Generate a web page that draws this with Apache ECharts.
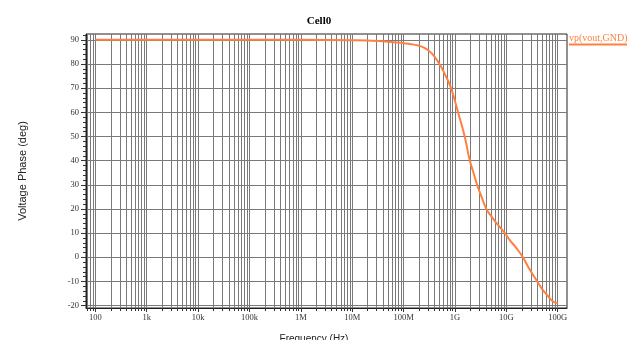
<!DOCTYPE html>
<html>
<head>
  <meta charset="utf-8" />
  <title>Cell0</title>
  <script src="https://cdn.jsdelivr.net/npm/echarts@6.0.0/dist/echarts.min.js"></script>
  <style>
    html, body { margin: 0; padding: 0; background: #fff; }
    #chart-main { width: 638px; height: 340px; }
  </style>
</head>
<body>
<div id="chart-main"></div>

<script type="text/javascript">
// phase of vp(vout,GND) (Hz -> deg)
var freqList = [1e2, 1e3, 1e4, 1e5, 1e6, 1e7,
  3.2e7, 1e8, 1.6e8, 2.5e8, 3.5e8, 5e8, 6.3e8, 8.4e8,
  1.15e9, 1.55e9, 1.95e9, 2.3e9, 2.7e9, 3.3e9, 4.1e9, 5e9, 6.5e9, 9.4e9,
  1.17e10, 1.6e10, 2.1e10, 2.9e10, 4e10, 5e10, 6.2e10, 8.1e10, 1e11];
var phaseList = [90, 90, 90, 90, 90, 89.85,
  89.5, 88.6, 88.0, 86.8, 84.5, 80, 76, 70,
  60, 50, 40, 35, 30, 25, 20, 17.2, 14, 10,
  7.1, 3.6, 0, -5.3, -10, -13.2, -15.6, -18.3, -18.9];

var decadeTicks  = [1e2, 1e3, 1e4, 1e5, 1e6, 1e7, 1e8, 1e9, 1e10, 1e11];
var decadeLabels = ['100', '1k', '10k', '100k', '1M', '10M', '100M', '1G', '10G', '100G'];
var minorSteps   = [2, 3, 4, 5, 6, 7, 8, 9];
var phaseTicks   = [-20, -10, 0, 10, 20, 30, 40, 50, 60, 70, 80, 90];
var phaseMinorTicks = [-20, -18, -16, -14, -12, -10, -8, -6, -4, -2, 0, 2, 4, 6, 8, 10, 12, 14, 16, 18,
  20, 22, 24, 26, 28, 30, 32, 34, 36, 38, 40, 42, 44, 46, 48, 50, 52, 54, 56, 58,
  60, 62, 64, 66, 68, 70, 72, 74, 76, 78, 80, 82, 84, 86, 88, 90, 92];

var freqMin = 65.9, freqMax = 1.52e11;
var phaseMin = -21, phaseMax = 92.4;

var seriesName = 'vp(vout,GND)';
var lineColor = '#ff8040';
var gridColor = '#7a7a7a';
var serif = 'Liberation Serif';
var sans = 'Liberation Sans';

// 2..9 x each decade, kept inside the visible range
var minorFreqs = [];
[10].concat(decadeTicks).forEach(function (d) {
  minorSteps.forEach(function (k) {
    var f = d * k;
    if (f >= freqMin && f <= freqMax) minorFreqs.push(f);
  });
});

var data = freqList.map(function (f, i) { return [f, phaseList[i]]; });

var myChart = echarts.init(document.getElementById('chart-main'));

var option = {
  backgroundColor: '#fff',
  animation: false,
  title: [{
    text: 'Cell0', left: 'center', top: 11,
    textStyle: { fontFamily: serif, fontSize: 11, fontWeight: 'bold', color: '#000' }
  }, {
    text: 'Frequency (Hz)', left: 309, top: 329, textAlign: 'center',
    textStyle: { fontFamily: sans, fontSize: 10, fontWeight: 'normal', color: '#222' }
  }],
  legend: [{
    data: [seriesName], left: 564, top: 31, padding: 0,
    icon: 'none', itemWidth: 0, itemHeight: 14, selectedMode: false,
    textStyle: { fontFamily: serif, fontSize: 10, color: lineColor }
  }, {
    data: [seriesName], left: 569, top: 43.5, padding: 0,
    icon: 'rect', itemWidth: 58, itemHeight: 2, selectedMode: false,
    formatter: function () { return ''; },
    textStyle: { fontSize: 1, lineHeight: 2 }
  }],
  grid: {
    left: 86, right: 71, top: 34, bottom: 32,
    show: true, borderColor: '#222', borderWidth: 1
  },
  xAxis: [{
    type: 'log', min: freqMin, max: freqMax, position: 'bottom',
    axisLine: { show: true, onZero: false, lineStyle: { color: '#222' } },
    axisTick: { show: true, customValues: decadeTicks, length: 4, lineStyle: { color: '#333' } },
    axisLabel: {
      customValues: decadeTicks, margin: 5, fontFamily: serif, fontSize: 8.5, color: '#333',
      formatter: function (v) { return decadeLabels[Math.round(Math.log10(v)) - 2]; }
    },
    splitLine: { show: true, lineStyle: { color: gridColor, width: 1 } }
  }, {
    type: 'log', min: freqMin, max: freqMax, position: 'bottom',
    axisLine: { show: false, onZero: false },
    axisTick: { show: true, customValues: minorFreqs, length: 3, lineStyle: { color: '#333' } },
    axisLabel: { show: false },
    splitLine: { show: true, lineStyle: { color: gridColor, width: 1 } }
  }],
  yAxis: [{
    type: 'value', min: phaseMin, max: phaseMax, position: 'left',
    name: 'Voltage Phase (deg)', nameLocation: 'middle', nameRotate: 90, nameGap: 58,
    nameTextStyle: { fontFamily: sans, fontSize: 11, color: '#222' },
    axisLine: { show: true, onZero: false, lineStyle: { color: '#222' } },
    axisTick: { show: true, customValues: phaseTicks, length: 5, lineStyle: { color: '#333' } },
    axisLabel: { customValues: phaseTicks, margin: 7, fontFamily: serif, fontSize: 8.5, color: '#333' },
    splitLine: { show: true, lineStyle: { color: gridColor, width: 1 } }
  }, {
    type: 'value', min: phaseMin, max: phaseMax, position: 'left',
    axisLine: { show: false, onZero: false },
    axisTick: { show: true, customValues: phaseMinorTicks, length: 3, lineStyle: { color: '#333' } },
    axisLabel: { show: false },
    splitLine: { show: false }
  }],
  series: [{
    name: seriesName, type: 'line', xAxisIndex: 0, yAxisIndex: 0,
    data: data, showSymbol: false, symbol: 'none',
    smooth: 0.5,
    itemStyle: { color: lineColor },
    lineStyle: { color: lineColor, width: 2 }
  }]
};

myChart.setOption(option);
</script>
</body>
</html>
